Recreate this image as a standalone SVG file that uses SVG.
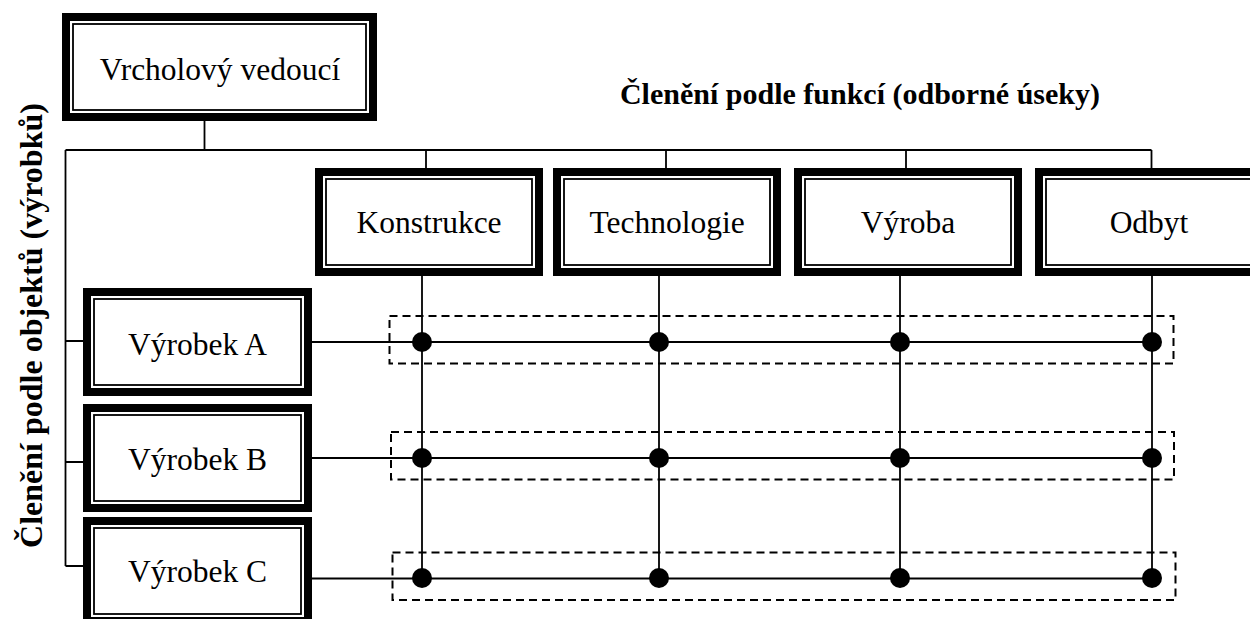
<svg xmlns="http://www.w3.org/2000/svg" width="1250" height="619" viewBox="0 0 1250 619">
<style>
.outer{fill:#fff;stroke:#000;stroke-width:8}
.inner{fill:none;stroke:#000;stroke-width:1.8}
.lbl{font-family:"Liberation Serif","Times New Roman",serif;font-size:31.5px;fill:#000;text-anchor:middle}
.ttl{font-family:"Liberation Serif","Times New Roman",serif;font-weight:bold;fill:#000;text-anchor:middle}
.ln{stroke:#000;stroke-width:1.8;fill:none}
.dash{stroke:#000;stroke-width:2;fill:none;stroke-dasharray:8 5}
.dot{fill:#000}
</style>
<rect width="1250" height="619" fill="#fff"/>
<text class="ttl" x="860" y="104" font-size="30">Členění podle funkcí (odborné úseky)</text>
<text class="ttl" font-size="32" transform="translate(41.5,325.5) rotate(-90)">Členění podle objektů (výrobků)</text>
<g id="connectors">
<path class="ln" d="M204.5 121V150M65.5 150H1151.5M426 150V168M666 150V168M906 150V168M1151.5 150V168M65.5 150V566M65.5 341H83M65.5 462H83M65.5 566H83"/>
<path class="ln" d="M422 276V578.5M659 276V578.5M900 276V578.5M1152 276V578.5"/>
<path class="ln" d="M312 342H1152M312 458H1152M312 578.5H1152"/>
<rect class="dash" x="389.5" y="316" width="784" height="47.5"/>
<rect class="dash" x="391" y="432" width="783" height="47.5"/>
<rect class="dash" x="392.5" y="552.5" width="783" height="47.5"/>
<circle class="dot" cx="422" cy="342" r="10"/><circle class="dot" cx="659" cy="342" r="10"/><circle class="dot" cx="900" cy="342" r="10"/><circle class="dot" cx="1152" cy="342" r="10"/>
<circle class="dot" cx="422" cy="458" r="10"/><circle class="dot" cx="659" cy="458" r="10"/><circle class="dot" cx="900" cy="458" r="10"/><circle class="dot" cx="1152" cy="458" r="10"/>
<circle class="dot" cx="422" cy="578" r="10"/><circle class="dot" cx="659" cy="578" r="10"/><circle class="dot" cx="900" cy="578" r="10"/><circle class="dot" cx="1152" cy="578" r="10"/>
</g>
<g id="top"><rect class="outer" x="66" y="17" width="307" height="100"/><rect class="inner" x="73" y="24" width="293" height="86"/><text class="lbl" x="220" y="80">Vrcholový vedoucí</text></g>
<g id="konstrukce"><rect class="outer" x="319" y="172" width="220" height="100"/><rect class="inner" x="326" y="179" width="206" height="86"/><text class="lbl" x="429" y="233">Konstrukce</text></g>
<g id="technologie"><rect class="outer" x="557" y="172" width="220" height="100"/><rect class="inner" x="564" y="179" width="206" height="86"/><text class="lbl" x="667" y="233">Technologie</text></g>
<g id="vyroba"><rect class="outer" x="798" y="172" width="220" height="100"/><rect class="inner" x="805" y="179" width="206" height="86"/><text class="lbl" x="908" y="233">Výroba</text></g>
<g id="odbyt"><rect class="outer" x="1039" y="172" width="220" height="100"/><rect class="inner" x="1046" y="179" width="206" height="86"/><text class="lbl" x="1149" y="233">Odbyt</text></g>
<g id="vyrobekA"><rect class="outer" x="87" y="292" width="221" height="100"/><rect class="inner" x="94" y="299" width="207" height="86"/><text class="lbl" x="197.5" y="355">Výrobek A</text></g>
<g id="vyrobekB"><rect class="outer" x="87" y="408" width="221" height="100"/><rect class="inner" x="94" y="415" width="207" height="86"/><text class="lbl" x="197.5" y="470">Výrobek B</text></g>
<g id="vyrobekC"><rect class="outer" x="87" y="521" width="221" height="100"/><rect class="inner" x="94" y="528" width="207" height="86"/><text class="lbl" x="197.5" y="582">Výrobek C</text></g>
</svg>
